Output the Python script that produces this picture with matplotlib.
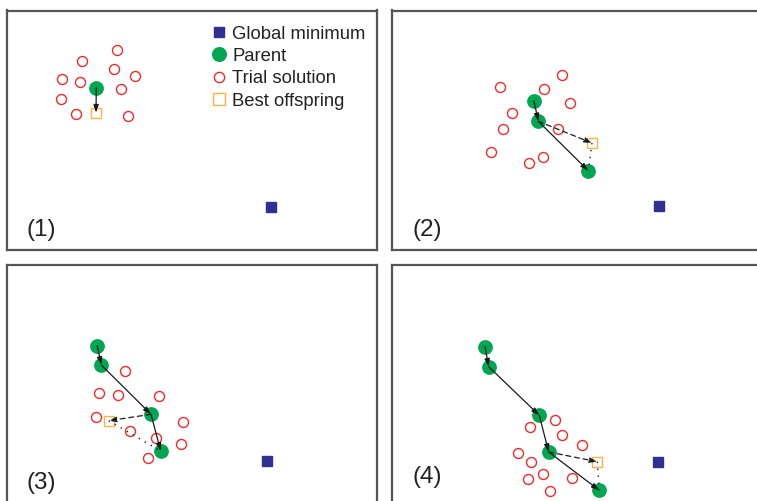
import matplotlib

matplotlib.use("Agg")

import matplotlib.pyplot as plt
from matplotlib.lines import Line2D

plt.rcParams["font.family"] = ["Liberation Sans", "DejaVu Sans"]

W, H = 757, 501  # figure size in pixels

# panel frames (pixel coords of the top-left corner), all panels same size
PANEL_W, PANEL_H = 370, 239.5
panel_origin = [(7, 10.5), (392, 10.5), (7, 265), (392, 265)]
panel_labels = ["(1)", "(2)", "(3)", "(4)"]
label_pos = [(26.7, 230), (412.3, 230), (26.7, 483), (412.3, 477)]

# global minimum location in each panel
gmin_x = [271.3, 659.3, 267.3, 658.3]
gmin_y = [207.0, 205.7, 460.7, 461.7]

# parent trajectory in each panel
parent_x = [
    [96.3],
    [534.0, 538.3, 588.3],
    [97.3, 101.3, 151.0, 160.7],
    [485.0, 488.7, 539.3, 548.7, 599.3],
]
parent_y = [
    [87.7],
    [101.0, 121.3, 170.7],
    [345.7, 365.0, 414.3, 451.0],
    [346.7, 366.7, 415.3, 452.0, 490.3],
]

# best offspring in each panel
best_x = [96.0, 592.0, 108.7, 597.3]
best_y = [112.7, 143.0, 420.7, 461.7]

# trial solutions in each panel
trial_x = [
    [117.0, 82.3, 113.7, 135.3, 62.3, 80.0, 121.3, 61.3, 76.0, 128.3],
    [562.3, 500.3, 544.3, 570.0, 512.0, 503.0, 558.0, 491.3, 543.3, 529.3],
    [125.0, 98.7, 118.0, 159.3, 95.7, 183.3, 129.7, 156.0, 181.3, 148.3],
    [555.3, 530.3, 562.3, 582.3, 517.7, 530.7, 543.3, 572.0, 528.3, 549.7],
]
trial_y = [
    [50.0, 61.0, 69.0, 76.0, 79.3, 81.7, 89.3, 99.0, 114.3, 116.3],
    [75.0, 86.7, 89.3, 103.3, 113.3, 129.3, 129.3, 152.0, 157.3, 163.0],
    [371.0, 393.0, 394.7, 396.3, 417.0, 422.3, 430.7, 437.7, 444.0, 457.7],
    [420.0, 426.7, 435.3, 444.7, 452.7, 462.3, 474.0, 478.0, 479.3, 490.7],
]

legend_labels = ["Global minimum", "Parent", "Trial solution", "Best offspring"]

GREEN = "#00a651"
RED = "#ee2b2b"
ORANGE = "#fbb347"
NAVY = "#2e3192"
FRAME = "#555555"


def arrow(ax, x0, y0, x1, y1, ls="-"):
    ax.annotate(
        "",
        xy=(x1, y1),
        xytext=(x0, y0),
        arrowprops=dict(
            arrowstyle="-|>,head_length=0.45,head_width=0.15",
            color="#1a1a1a",
            lw=0.9,
            ls=ls,
            shrinkA=0,
            shrinkB=0,
            mutation_scale=10,
        ),
        zorder=5,
    )


fig = plt.figure(figsize=(W / 100, H / 100), dpi=100)

for i, (ox, oy) in enumerate(panel_origin):
    ax = fig.add_axes(
        [ox / W, 1 - (oy + PANEL_H) / H, PANEL_W / W, PANEL_H / H]
    )
    ax.set_xlim(ox, ox + PANEL_W)
    ax.set_ylim(oy + PANEL_H, oy)
    ax.set_xticks([])
    ax.set_yticks([])
    for s in ax.spines.values():
        s.set_color(FRAME)
        s.set_linewidth(1.6)

    ax.plot(trial_x[i], trial_y[i], "o", ms=7.2, mfc="none", mec=RED, mew=1.0,
            ls="none", zorder=2)
    ax.plot(best_x[i], best_y[i], "s", ms=7.8, mfc="none", mec=ORANGE, mew=1.0,
            ls="none", zorder=2)
    ax.plot(parent_x[i], parent_y[i], "o", ms=9.6, mfc=GREEN, mec=GREEN,
            ls="none", zorder=3)
    ax.plot(gmin_x[i], gmin_y[i], "s", ms=7.6, mfc=NAVY, mec=NAVY, ls="none",
            zorder=3)

    px, py = parent_x[i], parent_y[i]
    if len(px) == 1:
        arrow(ax, px[0], py[0], best_x[i], best_y[i])
    else:
        for k in range(len(px) - 1):
            arrow(ax, px[k], py[k], px[k + 1], py[k + 1])
        arrow(ax, px[-2], py[-2], best_x[i], best_y[i], ls=(0, (4, 3)))
        ax.plot([best_x[i], px[-1]], [best_y[i], py[-1]], color="#1a1a1a",
                lw=1.0, ls=(0, (1, 4)), zorder=5)

    lx, ly = label_pos[i]
    ax.text(lx, ly, panel_labels[i], fontsize=17.5, ha="left", va="center",
            color="#222222")

    if i == 0:
        handles = [
            Line2D([], [], ls="none", marker="s", ms=7.8, mfc=NAVY, mec=NAVY),
            Line2D([], [], ls="none", marker="o", ms=9.8, mfc=GREEN, mec=GREEN),
            Line2D([], [], ls="none", marker="o", ms=7.4, mfc="none", mec=RED,
                   mew=1.0),
            Line2D([], [], ls="none", marker="s", ms=8.0, mfc="none",
                   mec=ORANGE, mew=1.0),
        ]
        ax.legend(
            handles,
            legend_labels,
            loc="upper left",
            bbox_to_anchor=(213.9, 25.6),
            bbox_transform=ax.transData,
            frameon=False,
            fontsize=13.3,
            handlelength=0.6,
            handletextpad=0.4,
            labelspacing=0.29,
            borderpad=0,
            borderaxespad=0,
            labelcolor="#222222",
        )

fig.savefig("out.png", dpi=100)
